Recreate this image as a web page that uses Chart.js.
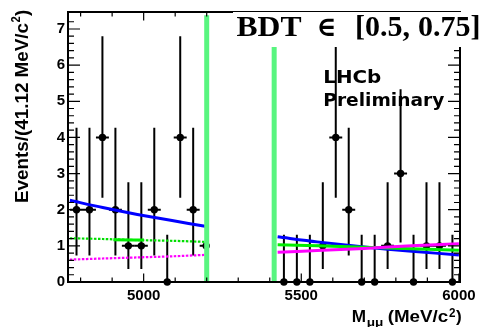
<!DOCTYPE html>
<html><head><meta charset="utf-8">
<script src="https://cdn.jsdelivr.net/npm/chart.js@4.4.0/dist/chart.umd.min.js"></script>
<style>html,body{margin:0;padding:0;background:#fff;}canvas{display:block;}</style>
</head><body>
<canvas id="c" width="486" height="327"></canvas>
<script>
// ---- data ----
const binCenters = [4787.0, 4828.1, 4869.2, 4910.4, 4951.5, 4992.6, 5033.7, 5074.8, 5116.0, 5157.1, 5198.2,
                    5444.9, 5486.0, 5527.2, 5568.3, 5609.4, 5650.5, 5691.6, 5732.8, 5773.9, 5815.0, 5856.1, 5897.2, 5938.4, 5979.5];
const counts     = [2, 2, 4, 2, 1, 1, 2, 0, 4, 2, 1,
                    0, 0, 0, 1, 4, 2, 0, 0, 1, 3, 0, 1, 1, 0];
// asymmetric (Poisson) error bar ends, indexed by count 0..4
const errBarLow  = [0, 0.36, 0.73, 1.09, 2.33];
const errBarHigh = [1.31, 2.76, 4.27, 5.33, 6.80];
const binHalfWidth = 20.56;

const curveLeftX    = [4766, 4870, 4980, 5090, 5195];
const totalLeft     = [2.26, 2.06, 1.87, 1.70, 1.54];
const greenLeft     = [1.21, 1.19, 1.16, 1.14, 1.11];
const magentaLeft   = [0.62, 0.65, 0.68, 0.71, 0.75];
const curveRightX   = [5425, 5550, 5700, 5850, 6000];
const totalRight    = [1.25, 1.11, 0.97, 0.85, 0.75];
const greenRight    = [1.03, 1.00, 0.96, 0.92, 0.88];
const magentaRight  = [0.82, 0.87, 0.93, 1.00, 1.06];
const greenSolidX   = [4904, 5001];
const greenSolidY   = [1.17, 1.16];
const blindEdges    = [5200, 5414];
const blindTop      = 7.38;
const xTickLabels   = [5000, 5500, 6000];
const yTickLabels   = [0, 1, 2, 3, 4, 5, 6, 7];

const pts = (xs, ys) => xs.map((x, i) => ({x: x, y: ys[i]}));

const BLIND = '#58f57f';
function lineDs(data, color, width, dash) {
  return {type: 'line', data: data, borderColor: color, borderWidth: width, borderDash: dash || [],
          pointRadius: 0, fill: false, tension: 0.3, clip: false};
}

const datasets = [
  lineDs(pts([blindEdges[0], blindEdges[0]], [0, blindTop]), BLIND, 5),
  lineDs(pts([blindEdges[1], blindEdges[1]], [0, blindTop]), BLIND, 5),
  lineDs(pts(curveRightX, magentaRight), '#ff00ff', 3),
  lineDs(pts(curveRightX, greenRight), '#00ee00', 3),
  lineDs(pts(curveRightX, totalRight), '#0000ff', 3),
  lineDs(pts(greenSolidX, greenSolidY), '#00ee00', 3),
  lineDs(pts(curveLeftX, magentaLeft), '#ff00ff', 2.2, [2.5, 1.5]),
  lineDs(pts(curveLeftX, greenLeft), '#00dd00', 2.2, [2.5, 1.5]),
  lineDs(pts(curveLeftX, totalLeft), '#0000ff', 3),
  {type: 'scatter', data: pts(binCenters, counts), pointRadius: 3.7, pointBackgroundColor: '#000',
   pointBorderWidth: 0, borderColor: '#000', showLine: false, clip: false}
];

function stretchText(ctx, s, x, y, font, w) {
  ctx.save();
  ctx.font = font;
  const m = ctx.measureText(s).width;
  ctx.translate(x, y);
  if (w) ctx.scale(w / m, 1);
  ctx.textAlign = 'left';
  ctx.textBaseline = 'alphabetic';
  ctx.fillText(s, 0, 0);
  ctx.restore();
}

const deco = {
  id: 'deco',
  beforeDatasetsDraw(chart) {
    const ctx = chart.ctx, xs = chart.scales.x, ys = chart.scales.y;
    ctx.save();
    ctx.strokeStyle = '#000';
    ctx.lineWidth = 2;
    binCenters.forEach((m, i) => {
      const n = counts[i];
      const px = xs.getPixelForValue(m);
      const py = ys.getPixelForValue(n);
      let lo = m - binHalfWidth, hi = m + binHalfWidth;
      if (m < blindEdges[0]) hi = Math.min(hi, blindEdges[0]);
      ctx.beginPath();
      ctx.moveTo(px, ys.getPixelForValue(errBarLow[n]));
      ctx.lineTo(px, ys.getPixelForValue(errBarHigh[n]));
      ctx.moveTo(xs.getPixelForValue(lo), py);
      ctx.lineTo(xs.getPixelForValue(hi), py);
      ctx.stroke();
    });
    ctx.restore();
  },
  afterDraw(chart) {
    const ctx = chart.ctx, xs = chart.scales.x, ys = chart.scales.y, a = chart.chartArea;
    ctx.save();
    ctx.strokeStyle = '#000';
    // ticks
    ctx.lineWidth = 1.2;
    ctx.beginPath();
    for (let v = 0; v <= 7.4; v += 0.2) {
      const r = Math.round(v * 10) / 10;
      const py = ys.getPixelForValue(r);
      const L = Math.abs(r - Math.round(r)) < 1e-6 ? 12 : 6;
      ctx.moveTo(a.left, py); ctx.lineTo(a.left + L, py);
      ctx.moveTo(a.right, py); ctx.lineTo(a.right - L, py);
    }
    for (let m = 4800; m <= 6000; m += 100) {
      const px = xs.getPixelForValue(m);
      const L = m % 500 === 0 ? 8.5 : 4.5;
      ctx.moveTo(px, a.bottom); ctx.lineTo(px, a.bottom - L);
      ctx.moveTo(px, a.top); ctx.lineTo(px, a.top + L);
    }
    ctx.stroke();
    // frame
    ctx.lineWidth = 2;
    ctx.strokeRect(a.left, a.top, a.right - a.left, a.bottom - a.top);

    // label box
    ctx.fillStyle = '#fff';
    ctx.fillRect(233, 12, 250, 35);
    ctx.fillStyle = '#000';
    const sf = 'bold 30px "Liberation Serif", "DejaVu Serif", serif';
    stretchText(ctx, 'BDT', 236.5, 36, sf, 65);
    stretchText(ctx, '\u2208', 316.5, 36, 'bold 28px "DejaVu Serif", serif', 20);
    stretchText(ctx, '[0.5,', 355, 36, sf);
    stretchText(ctx, '0.75]', 418, 36, sf);

    // LHCb Preliminary
    const lf = 'bold 18px "DejaVu Sans", sans-serif';
    stretchText(ctx, 'LHCb', 323.3, 83.3, lf, 58);
    stretchText(ctx, 'Preliminary', 323.3, 106, lf, 121);

    // x title
    stretchText(ctx, 'M', 351.7, 321.7, 'bold 16.3px "Liberation Sans", sans-serif', 14.3);
    stretchText(ctx, '\u03bc\u03bc', 366.7, 325.5, 'bold 10px "Liberation Sans", sans-serif', 16.6);
    stretchText(ctx, '(MeV/c', 387.7, 321.7, 'bold 16.3px "Liberation Sans", sans-serif', 60.6);
    stretchText(ctx, '2', 449, 316.5, 'bold 12px "Liberation Sans", sans-serif', 6.5);
    stretchText(ctx, ')', 456, 321.7, 'bold 16.3px "Liberation Sans", sans-serif', 5.7);

    // y title (rotated)
    ctx.save();
    ctx.translate(28.3, 203);
    ctx.rotate(-Math.PI / 2);
    stretchText(ctx, 'Events/(41.12 MeV/c', 0, 0, 'bold 18px "Liberation Sans", sans-serif', 180);
    stretchText(ctx, '2', 180.5, -8, 'bold 12px "Liberation Sans", sans-serif', 6.2);
    stretchText(ctx, ')', 187, 0, 'bold 18px "Liberation Sans", sans-serif', 6.2);
    ctx.restore();
    ctx.restore();
  }
};

new Chart(document.getElementById('c'), {
  data: {datasets: datasets},
  plugins: [deco],
  options: {
    responsive: false,
    animation: false,
    devicePixelRatio: 1,
    events: [],
    layout: {padding: {left: 0, right: 26, top: 6, bottom: 0}},
    plugins: {legend: {display: false}, tooltip: {enabled: false}, title: {display: false}},
    scales: {
      x: {
        type: 'linear', min: 4760, max: 6003.5,
        grid: {display: false, drawTicks: false}, border: {display: false},
        afterBuildTicks: s => { s.ticks = xTickLabels.map(v => ({value: v})); },
        afterFit: s => { s.height = 45; },
        ticks: {padding: 5, color: '#000', maxRotation: 0, autoSkip: false,
                font: {family: '"Liberation Sans", Arial, sans-serif', weight: 'bold', size: 15},
                callback: v => String(v)}
      },
      y: {
        type: 'linear', min: 0, max: 7.47,
        grid: {display: false, drawTicks: false}, border: {display: false},
        afterBuildTicks: s => { s.ticks = yTickLabels.map(v => ({value: v})); },
        afterFit: s => { s.width = 68; },
        ticks: {padding: 3, color: '#000', autoSkip: false,
                font: {family: '"Liberation Sans", Arial, sans-serif', weight: 'bold', size: 15},
                callback: v => String(v)}
      }
    }
  }
});
</script>
</body></html>
